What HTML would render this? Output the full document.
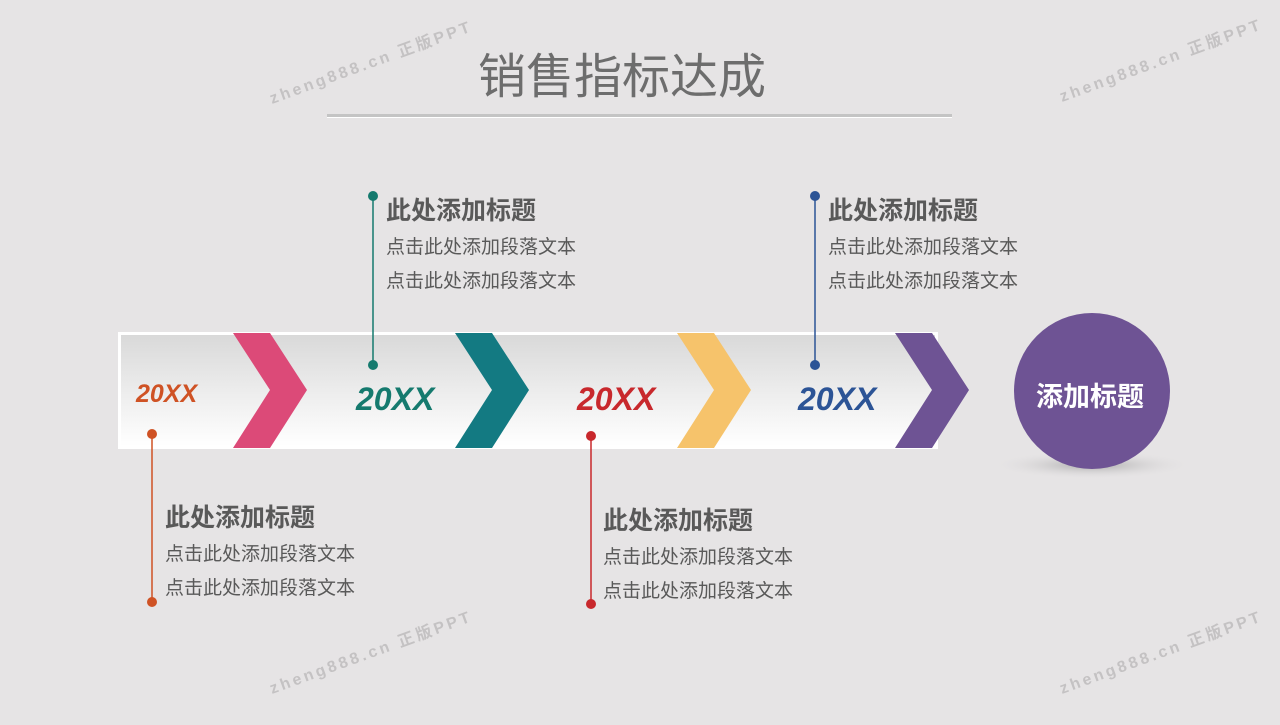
<!DOCTYPE html>
<html><head><meta charset="utf-8"><style>
body{margin:0;width:1280px;height:720px;background:#e6e4e5;overflow:hidden;font-family:"Liberation Sans","Noto Sans CJK SC",sans-serif}
</style></head><body>
<svg width="1280" height="720" xmlns="http://www.w3.org/2000/svg" style="font-family:'Liberation Sans','Noto Sans CJK SC',sans-serif">
<defs>
<linearGradient id="g" x1="0" y1="0" x2="0" y2="1"><stop offset="0" stop-color="#d9d9d9"/><stop offset="1" stop-color="#ffffff"/></linearGradient>
<radialGradient id="sh"><stop offset="0" stop-color="#999" stop-opacity=".8"/><stop offset="1" stop-color="#e6e4e5" stop-opacity="0"/></radialGradient>
</defs>
<rect width="1280" height="720" fill="#e6e4e5"/>
<g fill="#c4c2c3" font-size="16" font-weight="bold" letter-spacing="3">
<text transform="translate(272,104) rotate(-20)">zheng888.cn 正版PPT</text>
<text transform="translate(1062,102) rotate(-20)">zheng888.cn 正版PPT</text>
<text transform="translate(272,694) rotate(-20)">zheng888.cn 正版PPT</text>
<text transform="translate(1062,694) rotate(-20)">zheng888.cn 正版PPT</text>
</g>
<text x="622" y="93" text-anchor="middle" font-size="48" fill="#6d6d6d">销售指标达成</text>
<rect x="327" y="114" width="625" height="3" fill="#c4c4c4"/>
<rect x="327" y="117" width="625" height="1" fill="#fff"/>
<rect x="118" y="332" width="820" height="117" fill="#fff"/>
<rect x="121" y="335" width="814" height="111" fill="url(#g)"/>
<polygon points="233,333 270,333 307,390 270,448 233,448 270,390" fill="#dc4a78"/>
<polygon points="455,333 492,333 529,390 492,448 455,448 492,390" fill="#137a82"/>
<polygon points="677,333 714,333 751,390 714,448 677,448 714,390" fill="#f6c36b"/>
<polygon points="895,333 932,333 969,390 932,448 895,448 932,390" fill="#6e5394"/>
<g font-style="italic" font-weight="bold">
<text x="136" y="402" font-size="25" fill="#cf5224">20XX</text>
<text x="356" y="410" font-size="32" fill="#157a6e">20XX</text>
<text x="577" y="410" font-size="32" fill="#c8282c">20XX</text>
<text x="798" y="410" font-size="32" fill="#2c5496">20XX</text>
</g>
<ellipse cx="1092" cy="465" rx="100" ry="14" fill="url(#sh)"/>
<circle cx="1092" cy="391" r="78" fill="#6e5394"/>
<text x="1090" y="406" text-anchor="middle" font-size="27" font-weight="bold" fill="#fff">添加标题</text>
<g stroke-width="1.5">
<line x1="373" y1="196" x2="373" y2="365" stroke="#157a6e"/><circle cx="373" cy="196" r="5" fill="#157a6e"/><circle cx="373" cy="365" r="5" fill="#157a6e"/>
<line x1="815" y1="196" x2="815" y2="365" stroke="#2c5496"/><circle cx="815" cy="196" r="5" fill="#2c5496"/><circle cx="815" cy="365" r="5" fill="#2c5496"/>
<line x1="152" y1="434" x2="152" y2="602" stroke="#cf5224"/><circle cx="152" cy="434" r="5" fill="#cf5224"/><circle cx="152" cy="602" r="5" fill="#cf5224"/>
<line x1="591" y1="436" x2="591" y2="604" stroke="#c8282c"/><circle cx="591" cy="436" r="5" fill="#c8282c"/><circle cx="591" cy="604" r="5" fill="#c8282c"/>
</g>
<g fill="#595959">
<text x="386" y="219" font-size="25" font-weight="bold">此处添加标题</text>
<text x="386" y="253" font-size="19">点击此处添加段落文本</text>
<text x="386" y="287" font-size="19">点击此处添加段落文本</text>
<text x="828" y="219" font-size="25" font-weight="bold">此处添加标题</text>
<text x="828" y="253" font-size="19">点击此处添加段落文本</text>
<text x="828" y="287" font-size="19">点击此处添加段落文本</text>
<text x="165" y="526" font-size="25" font-weight="bold">此处添加标题</text>
<text x="165" y="560" font-size="19">点击此处添加段落文本</text>
<text x="165" y="594" font-size="19">点击此处添加段落文本</text>
<text x="603" y="529" font-size="25" font-weight="bold">此处添加标题</text>
<text x="603" y="563" font-size="19">点击此处添加段落文本</text>
<text x="603" y="597" font-size="19">点击此处添加段落文本</text>
</g>
</svg>
</body></html>
